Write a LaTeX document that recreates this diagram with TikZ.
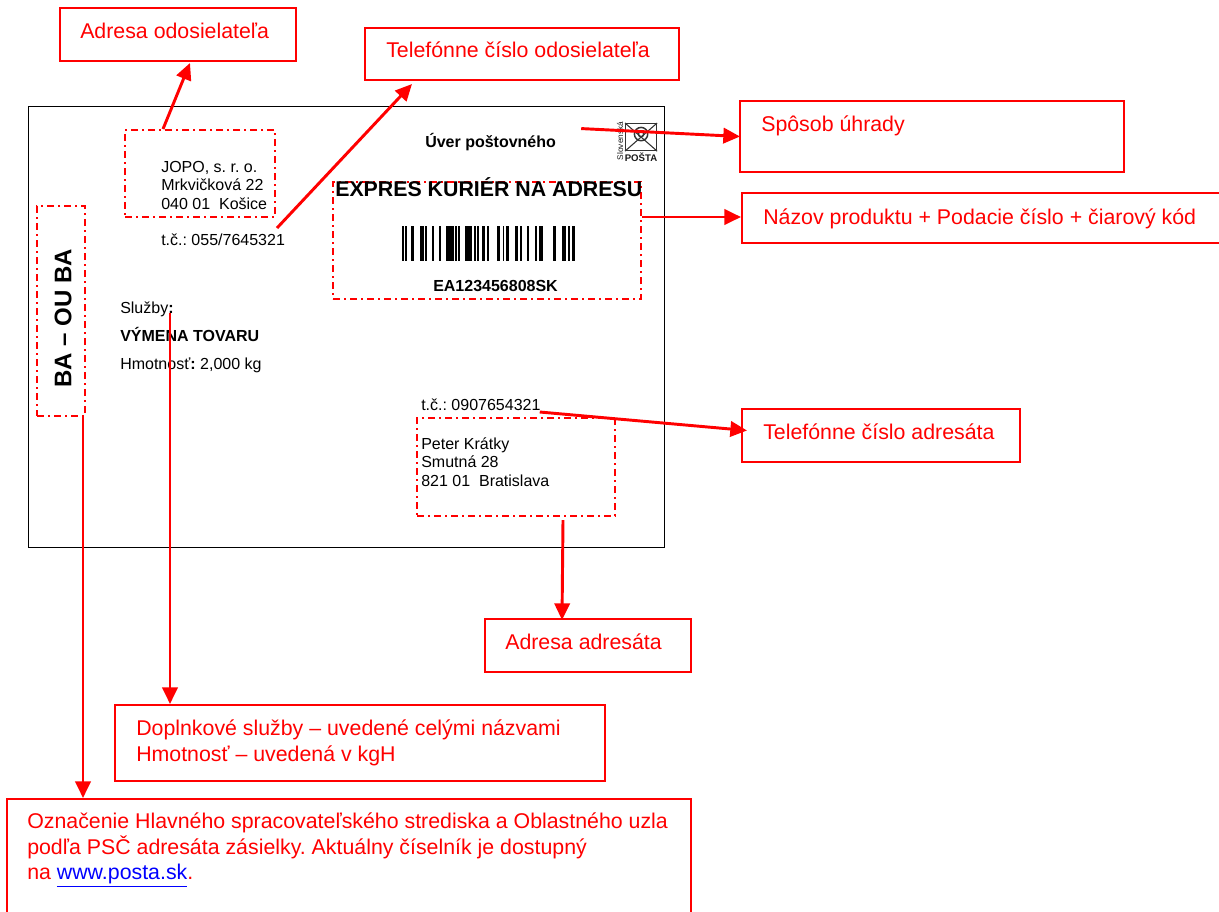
\documentclass[tikz,border=0pt]{standalone}
\usepackage{fontspec}
\setmainfont{Liberation Sans}
\frenchspacing
\usetikzlibrary{arrows.meta,calc}

\definecolor{labelred}{RGB}{255,0,0}
\definecolor{linkblue}{RGB}{0,0,255}

\tikzset{
    lbl_box/.style={draw=labelred, line width=1.5pt, anchor=north west, inner sep=0pt},
    lbl_text/.style={text=labelred, anchor=base west, inner sep=0pt, align=left, font=\fontsize{16}{19.5}\selectfont},
    area/.style={draw=labelred, line width=1.5pt, anchor=north west, inner sep=0pt, dash pattern=on 5.25pt off 3pt on 1.5pt off 3pt},
    red_arrow/.style={draw=labelred, line width=2.2pt, -{Triangle[length=12.5pt,width=11.5pt]}},
    plain/.style={anchor=base west, inner sep=0pt, align=left, font=\fontsize{12}{13.9}\selectfont},
    plain_bold/.style={plain, font=\fontsize{12}{13.9}\selectfont\bfseries}
}

\begin{document}
\begin{tikzpicture}[x=0.75pt, y=-0.75pt]

    \useasboundingbox (0,0) rectangle (1219,911);

    % envelope
    \node (envelope) [draw, line width=0.75pt, anchor=north west, inner sep=0pt,
        minimum width=477pt, minimum height=330.75pt] at (28,106) {};

    % sender
    \node (area_sender) [area, minimum width=112.5pt, minimum height=65.25pt] at (124,129) {};
    \node (txt_sender) [plain, anchor=north west] at (161,161) {JOPO, s. r. o.\\Mrkvičková 22\\040 01\ \ Košice};
    \node (txt_sender_tel) [plain] at (161,245) {t.č.: 055/7645321};

    % routing code
    \node (area_code) [area, minimum width=36pt, minimum height=157.5pt] at (36,205) {};
    \node (txt_code) [font=\fontsize{18}{20}\selectfont\bfseries, rotate=90, inner sep=0pt] at (63,318) {BA – OU BA};

    % services
    \node (txt_services) [plain] at (120,313) {Služby\textbf{:}};
    \node (txt_exchange) [plain_bold] at (120,341) {VÝMENA TOVARU};
    \node (txt_weight) [plain] at (120,369) {Hmotnosť\textbf{:} 2,000 kg};

    % payment and logo
    \node (txt_payment) [plain_bold] at (425,147) {Úver poštovného};
    \node (logo_box) [draw=black!80, line width=1.1pt, anchor=north west, inner sep=0pt,
        minimum width=23pt, minimum height=20pt] at (625,123) {};
    \draw[black!80, line width=0.8pt]
        (logo_box.north west) --
        (logo_box.center) --
        (logo_box.north east);
    \draw[black!80, line width=0.8pt]
        (logo_box.south west) --
        (logo_box.center) --
        (logo_box.south east);
    \draw[black!80, line width=1.1pt] (logo_box.center) ++(0,-3) circle (5pt);
    \draw[black!80, line width=1.1pt] (logo_box.center) ++(0,-3) circle (2pt);
    \node (txt_logo) [font=\fontsize{7.2}{8}\selectfont\bfseries, text=black!90, anchor=base, inner sep=0pt] at (641,161) {POŠTA};
    \node (txt_logo_side) [font=\fontsize{6.2}{7}\selectfont, text=black!90, rotate=90, inner sep=0pt] at (620,141) {Slovenská};

    % product and barcode
    \node (area_product) [area, minimum width=231pt, minimum height=87.75pt] at (332,181) {};
    \node (txt_product) [plain, font=\fontsize{16}{18}\selectfont\bfseries] at (335,196) {EXPRES KURIÉR NA ADRESU};
    \foreach \barx/\barw in {401.5/2.6,405.3/1.8,411.3/2.4,420.3/3.4,425/2,432/2.3,438.7/2.3,446.3/7.4,
        455/1.7,458.3/2,465.3/7,473.7/2,477.3/2,482.3/2.4,487/2.3,496.7/3,503/1.4,506/2.7,515/3.3,
        520/2,527.3/2,534.7/2,538.7/4.6,553.3/2.7,561.7/4.6,568.3/1.7,572/3}
        \fill (\barx,226) rectangle ++(\barw,35);
    \node (txt_number) [plain_bold] at (433,291) {EA123456808SK};

    % recipient
    \node (txt_recipient_tel) [plain] at (421,410) {t.č.: 0907654321};
    \node (area_recipient) [area, minimum width=148.5pt, minimum height=73.5pt] at (416,417) {};
    \node (txt_recipient) [plain, anchor=north west] at (421,437) {Peter Krátky\\Smutná 28\\821 01\ \ Bratislava};

    % label boxes
    \node (box_sender) [lbl_box, minimum width=177pt, minimum height=39.75pt] at (59,7) {};
    \node (lbl_sender) [lbl_text] at (80,38) {Adresa odosielateľa};

    \node (box_sender_tel) [lbl_box, minimum width=235.5pt, minimum height=39pt] at (364,27) {};
    \node (lbl_sender_tel) [lbl_text] at (386,57) {Telefónne číslo odosielateľa};

    \node (box_payment) [lbl_box, minimum width=288pt, minimum height=53.25pt] at (739,100) {};
    \node (lbl_payment) [lbl_text] at (761,131) {Spôsob úhrady};

    \node (box_product) [lbl_box, minimum width=400pt, minimum height=37.5pt] at (741,192) {};
    \node (lbl_product) [lbl_text] at (763,224) {Názov produktu + Podacie číslo + čiarový kód};

    \node (box_recipient_tel) [lbl_box, minimum width=208.5pt, minimum height=39.75pt] at (741,408) {};
    \node (lbl_recipient_tel) [lbl_text] at (763,439) {Telefónne číslo adresáta};

    \node (box_recipient) [lbl_box, minimum width=154.5pt, minimum height=39.75pt] at (484,618) {};
    \node (lbl_recipient) [lbl_text] at (505,649) {Adresa adresáta};

    \node (box_services) [lbl_box, minimum width=367.5pt, minimum height=57pt] at (114,704) {};
    \node (lbl_services) [lbl_text, anchor=north west] at (136,720) {Doplnkové služby – uvedené celými názvami\\Hmotnosť – uvedená v kgH};

    \node (box_code) [lbl_box, minimum width=513pt, minimum height=100pt] at (6,798) {};
    \node (lbl_code) [lbl_text, anchor=north west, font=\fontsize{16}{19}\selectfont] at (27,813) {Označenie Hlavného spracovateľského strediska a Oblastného uzla\\podľa PSČ adresáta zásielky. Aktuálny číselník je dostupný\\na {\color{linkblue}\underline{www.posta.sk}}.};

    % arrows
    \draw[red_arrow]
        ($(area_sender.north west)+(39,0)$) --
        ($(box_sender.south west)+(131,1)$);

    \draw[red_arrow]
        ($(area_sender.south east)+(1,10)$) --
        ($(box_sender_tel.south west)+(48,3)$);

    \draw[red_arrow]
        ($(txt_payment.east)+(25,-13)$) --
        ($(box_payment.west)+(1,0)$);

    \draw[red_arrow]
        (area_product.east |- 0,217) --
        (box_product.west |- 0,217);

    \draw[red_arrow]
        ($(txt_recipient_tel.base east)+(-1,2)$) --
        ($(box_recipient_tel.west)+(6,-5)$);

    \draw[red_arrow]
        ($(area_recipient.south)+(47,3)$) --
        ($(box_recipient.north west)+(78,2)$);

    \draw[red_arrow]
        ($(txt_services.base west)+(50,0)$) --
        ($(box_services.north west)+(56,0)$);

    \draw[red_arrow]
        ($(area_code.south west)+(47,0)$) --
        ($(box_code.north west)+(77,0)$);

\end{tikzpicture}
\end{document}
